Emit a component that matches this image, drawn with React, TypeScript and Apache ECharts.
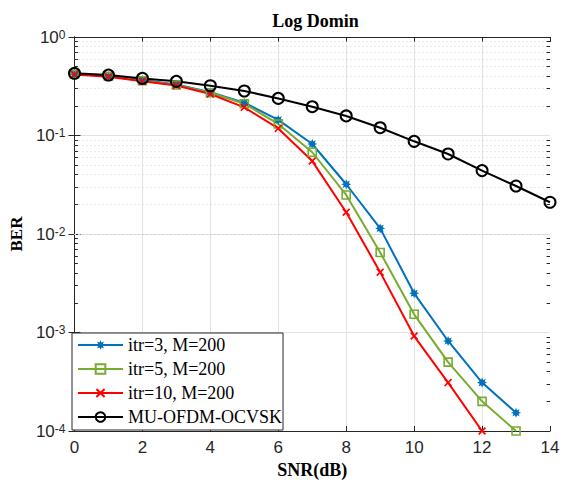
import React, { useEffect, useRef } from 'react';
import * as echarts from 'echarts';

const snr = [0, 1, 2, 3, 4, 5, 6, 7, 8, 9, 10, 11, 12, 13, 14];
const itr3 = [0.42, 0.40, 0.365, 0.33, 0.275, 0.215, 0.144, 0.082, 0.032, 0.0114, 0.0025, 0.00082, 0.00031, 0.000153];
const itr5 = [0.42, 0.40, 0.36, 0.326, 0.272, 0.21, 0.131, 0.0676, 0.0249, 0.0065, 0.00153, 0.0005, 0.0002, 0.0001];
const itr10 = [0.415, 0.395, 0.355, 0.322, 0.264, 0.193, 0.118, 0.055, 0.0166, 0.0041, 0.00092, 0.00031, 0.0001];
const ocvsk = [0.428, 0.411, 0.38, 0.355, 0.32, 0.283, 0.238, 0.196, 0.158, 0.12, 0.0873, 0.0649, 0.044, 0.0307, 0.021];

const seriesNames = ['itr=3, M=200', 'itr=5, M=200', 'itr=10, M=200', 'MU-OFDM-OCVSK'];
const decades = [1e-4, 1e-3, 1e-2, 1e-1];
const minorSteps = [2, 3, 4, 5, 6, 7, 8, 9];

const SERIF = 'Liberation Serif';
const SANS = 'Liberation Sans';
const AX = '#262626';

function starPath(): string {
  const pts: string[] = [];
  for (let i = 0; i < 16; i++) {
    const a = -Math.PI / 2 + (i * Math.PI) / 8;
    const r = i % 2 === 0 ? 10 : 5.5;
    pts.push(`${(10 + r * Math.cos(a)).toFixed(2)},${(10 + r * Math.sin(a)).toFixed(2)}`);
  }
  return 'path://M' + pts.join('L') + 'Z';
}
const xPath = 'path://M1.5,0L5,3.5L8.5,0L10,1.5L6.5,5L10,8.5L8.5,10L5,6.5L1.5,10L0,8.5L3.5,5L0,1.5Z';

const pairs = (ys: number[]) => ys.map((y, i) => [snr[i], y]);

export default function App() {
  const ref = useRef<HTMLDivElement>(null);
  useEffect(() => {
    if (!ref.current) return;
    const chart = echarts.init(ref.current, null, { renderer: 'svg' });

    const minorVals: number[] = [];
    decades.forEach((d) => minorSteps.forEach((k) => minorVals.push(k * d)));

    const gridMarks: any[] = minorVals.map((v) => ({
      yAxis: v,
      lineStyle: { color: '#d4d4d4', type: [1, 3], width: 1 },
    }));
    const tickMarks: any[] = [];
    minorVals.forEach((v) => {
      tickMarks.push([
        { coord: [0, v], lineStyle: { color: AX, type: 'solid', width: 1 } },
        { coord: [0.1, v] },
      ]);
      tickMarks.push([
        { coord: [13.9, v], lineStyle: { color: AX, type: 'solid', width: 1 } },
        { coord: [14, v] },
      ]);
    });

    const labelFmt = (v: number) => {
      const e = Math.round(Math.log10(v));
      return `{b|10}{s|${e}}`;
    };

    const option: any = {
      animation: false,
      backgroundColor: '#fff',
      title: {
        text: 'Log Domin',
        left: 310.5,
        textAlign: 'center',
        top: 7,
        textStyle: { fontFamily: SERIF, fontWeight: 'bold', fontSize: 18, color: '#000' },
      },
      grid: { left: 71, right: 15, top: 37, bottom: 56 },
      legend: {
        data: seriesNames,
        orient: 'vertical',
        left: 72,
        top: 333,
        itemWidth: 45,
        itemHeight: 12,
        itemGap: 6,
        itemTextGap: 4,
        padding: [3, 1, 4, 5],
        backgroundColor: '#fff',
        borderColor: AX,
        borderWidth: 1,
        borderRadius: 0,
        z: 10,
        textStyle: { fontFamily: SERIF, fontSize: 18, color: '#000' },
      },
      xAxis: [
        {
          type: 'value',
          min: 0,
          max: 14,
          interval: 2,
          name: 'SNR(dB)',
          nameLocation: 'middle',
          nameGap: 27,
          nameTextStyle: { fontFamily: SERIF, fontWeight: 'bold', fontSize: 18, color: '#000' },
          axisLine: { show: true, lineStyle: { color: AX, width: 1 } },
          axisTick: { show: true, inside: true, length: 5, lineStyle: { color: AX } },
          axisLabel: { fontFamily: SANS, fontSize: 17, color: AX, margin: 8 },
          splitLine: { show: true, showMinLine: false, showMaxLine: false, lineStyle: { color: '#e2e2e2', width: 1 } },
        },
        {
          type: 'value',
          position: 'top',
          min: 0,
          max: 14,
          interval: 2,
          axisLine: { show: true, lineStyle: { color: AX, width: 1 } },
          axisTick: { show: true, inside: true, length: 5, lineStyle: { color: AX } },
          axisLabel: { show: false },
          splitLine: { show: false },
        },
      ],
      yAxis: [
        {
          type: 'log',
          logBase: 10,
          min: 1e-4,
          max: 1,
          name: 'BER',
          nameLocation: 'middle',
          nameGap: 44,
          nameTextStyle: { fontFamily: SERIF, fontWeight: 'bold', fontSize: 17, color: '#000' },
          axisLine: { show: true, lineStyle: { color: AX, width: 1 } },
          axisTick: { show: true, inside: true, length: 6, lineStyle: { color: AX } },
          axisLabel: {
            margin: 9,
            formatter: labelFmt,
            rich: {
              b: { fontFamily: SANS, fontSize: 17, color: AX, lineHeight: 17, verticalAlign: 'bottom', padding: [7, 0, 0, 0] },
              s: { fontFamily: SANS, fontSize: 12, color: AX, lineHeight: 12, verticalAlign: 'top' },
            },
          },
          splitLine: { show: true, showMinLine: false, showMaxLine: false, lineStyle: { color: '#e2e2e2', width: 1 } },
        },
        {
          type: 'log',
          logBase: 10,
          min: 1e-4,
          max: 1,
          position: 'right',
          axisLine: { show: true, lineStyle: { color: AX, width: 1 } },
          axisTick: { show: true, inside: true, length: 6, lineStyle: { color: AX } },
          axisLabel: { show: false },
          splitLine: { show: false },
        },
      ],
      series: [
        {
          name: '__grid',
          type: 'line',
          data: [[0, 0.5]],
          symbol: 'none',
          lineStyle: { opacity: 0 },
          silent: true,
          z: 1,
          markLine: {
            silent: true,
            symbol: ['none', 'none'],
            label: { show: false },
            z: 1,
            animation: false,
            data: [...gridMarks, ...tickMarks],
          },
        },
        {
          name: seriesNames[0],
          type: 'line',
          data: pairs(itr3),
          symbol: starPath(),
          symbolSize: 10,
          clip: false,
          color: '#0072BD',
          lineStyle: { color: '#0072BD', width: 2 },
          itemStyle: { color: '#0072BD' },
          z: 3,
        },
        {
          name: seriesNames[1],
          type: 'line',
          data: pairs(itr5),
          symbol: 'rect',
          symbolSize: 8,
          clip: false,
          color: '#77AC30',
          lineStyle: { color: '#77AC30', width: 2 },
          itemStyle: { color: 'rgba(255,255,255,0)', borderColor: '#77AC30', borderWidth: 1.6 },
          z: 3,
        },
        {
          name: seriesNames[2],
          type: 'line',
          data: pairs(itr10),
          symbol: xPath,
          symbolSize: 8,
          clip: false,
          color: '#FF0000',
          lineStyle: { color: '#FF0000', width: 2 },
          itemStyle: { color: '#FF0000' },
          z: 3,
        },
        {
          name: seriesNames[3],
          type: 'line',
          data: pairs(ocvsk),
          symbol: 'circle',
          symbolSize: 11,
          clip: false,
          color: '#000000',
          lineStyle: { color: '#000000', width: 2 },
          itemStyle: { color: 'rgba(255,255,255,0)', borderColor: '#000000', borderWidth: 2 },
          z: 3,
        },
      ],
    };
    chart.setOption(option);
    return () => chart.dispose();
  }, []);
  return <div ref={ref} style={{ position: 'absolute', left: 0, top: 0, width: 565, height: 487 }} />;
}
